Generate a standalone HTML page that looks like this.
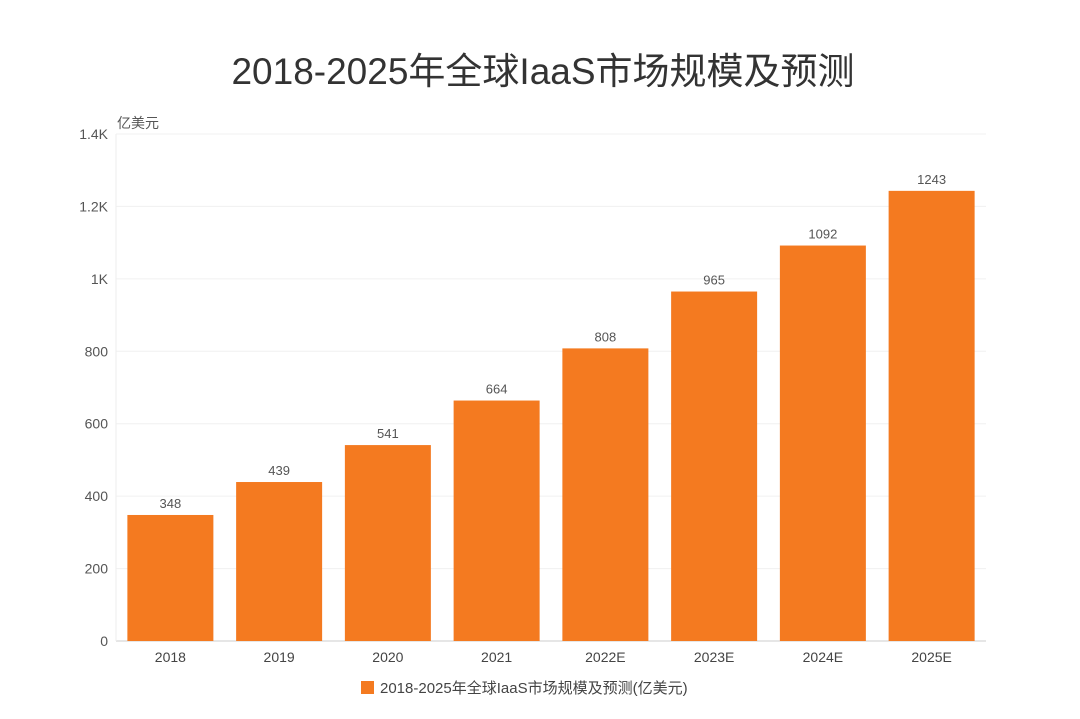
<!DOCTYPE html>
<html><head><meta charset="utf-8">
<style>
body{margin:0;width:1080px;height:714px;background:#fff;overflow:hidden;font-family:"Liberation Sans","Noto Sans CJK SC",sans-serif;}
</style></head>
<body>
<svg id="chart" width="1080" height="714" xmlns="http://www.w3.org/2000/svg" font-family="Liberation Sans, Noto Sans CJK SC, sans-serif">
<text x="543" y="84" text-anchor="middle" font-size="37" fill="#333">2018-2025年全球IaaS市场规模及预测</text>
<text x="117" y="128" font-size="14" fill="#555">亿美元</text>
<g id="grid"></g><g id="bars"></g><g id="labels"></g>
<g>
<rect x="361" y="681" width="13" height="13" fill="#f47a20"/>
<text x="380" y="693" font-size="15" fill="#444">2018-2025年全球IaaS市场规模及预测(亿美元)</text>
</g>
</svg>
<script>
const categories=["2018","2019","2020","2021","2022E","2023E","2024E","2025E"];
const values=[348,439,541,664,808,965,1092,1243];
const tickValues=[0,200,400,600,800,1000,1200,1400];
const tickLabels=["0","200","400","600","800","1K","1.2K","1.4K"];
const NS="http://www.w3.org/2000/svg";
const x0=116,x1=986,y0=641,yMax=1400,yTop=134;
const band=(x1-x0)/categories.length,bw=86;
const y=v=>y0-(v/yMax)*(y0-yTop);
const xc=i=>x0+band*(i+0.5);
function mk(tag,attrs,parent){const e=document.createElementNS(NS,tag);for(const k in attrs)e.setAttribute(k,attrs[k]);parent.appendChild(e);return e;}
const grid=document.getElementById('grid'),bars=document.getElementById('bars'),labels=document.getElementById('labels');
tickValues.forEach((t,i)=>{
  const l=mk('line',{x1:x0,x2:x1,y1:y(t),y2:y(t),stroke:i==0?'#ccc':'#f0f0f0','stroke-width':1},grid);
  
  
  const tx=mk('text',{x:108,y:y(t)+5,'text-anchor':'end','font-size':14,fill:'#555'},grid);
  tx.textContent=tickLabels[i];
  
  
});
const ax=mk('line',{x1:x0,x2:x0,y1:yTop,y2:y0,stroke:'#eee'},grid);


categories.forEach((c,i)=>{
  const v=values[i];
  const r=mk('rect',{x:xc(i)-bw/2,y:y(v),width:bw,height:y0-y(v),fill:'#f47a20'},bars);
  
  
  const vl=mk('text',{x:xc(i),y:y(v)-7,'text-anchor':'middle','font-size':13,fill:'#555'},labels);
  vl.textContent=v;
  
  
  const xl=mk('text',{x:xc(i),y:662,'text-anchor':'middle','font-size':14,fill:'#444'},labels);
  xl.textContent=c;
  
  
});
</script>
</body></html>
